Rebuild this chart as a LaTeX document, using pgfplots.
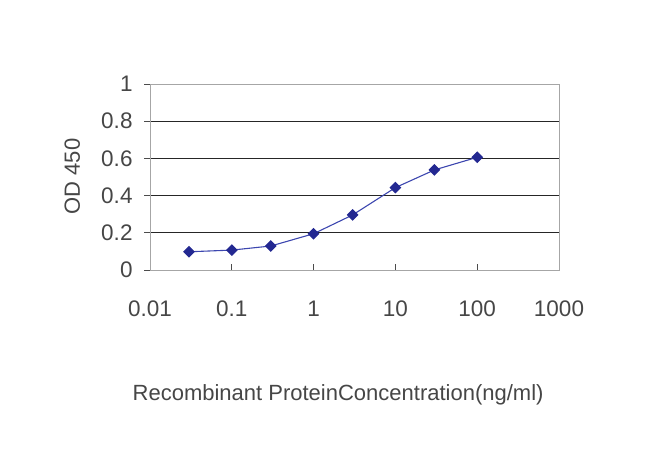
\documentclass[border=0pt]{standalone}
\usepackage{fontspec}
\setmainfont{Liberation Sans}
\usepackage{pgfplots}
\pgfplotsset{compat=1.18}
\definecolor{navy}{RGB}{35,40,145}
\definecolor{linec}{RGB}{60,70,175}
\definecolor{txt}{RGB}{70,70,70}
\begin{document}
\begin{tikzpicture}
\begin{axis}[
    scale only axis, width=409bp, height=186bp,
    xmode=log, xmin=0.01, xmax=1000, ymin=0, ymax=1,
    log basis x=10,
    xtick={0.01,0.1,1,10,100,1000},
    xticklabels={0.01,0.1,1,10,100,1000},
    ytick={0,0.2,0.4,0.6,0.8,1},
    yticklabels={0,0.2,0.4,0.6,0.8,1},
    minor xtick={},
    xtick pos=bottom, ytick pos=left,
    ymajorgrids, grid style={black!85, line width=1pt},
    axis line style={gray!70, line width=0.9pt},
    xtick align=inside, ytick align=outside,
    major tick length=6bp,
    xtick style={black!70, line width=0.8pt},
    ytick style={black!70, line width=0.8pt},
    tick label style={font=\fontsize{22.5bp}{24bp}\selectfont, text=txt},
    xticklabel style={yshift=-27bp},
    yticklabel style={xshift=-8bp},
    xlabel={Recombinant ProteinConcentration(ng/ml)},
    ylabel={OD 450},
    label style={font=\fontsize{22bp}{24bp}\selectfont, text=txt},
    xlabel style={at={(axis description cs:0.46,-0.672)}, anchor=center},
    ylabel style={at={(axis description cs:-0.19,0.503)}, anchor=center},
]
\addplot[linec, line width=1.1pt, mark=square*, mark size=3.6bp,
         mark options={fill=navy, draw=navy, rotate=45}]
  coordinates {(0.03,0.098) (0.1,0.107) (0.3,0.129) (1,0.195) (3,0.296) (10,0.443) (30,0.538) (100,0.606)};
\end{axis}
\path (current axis.south west) ++(-150bp,-196bp) rectangle ++(650bp,466bp);
\end{tikzpicture}
\end{document}
